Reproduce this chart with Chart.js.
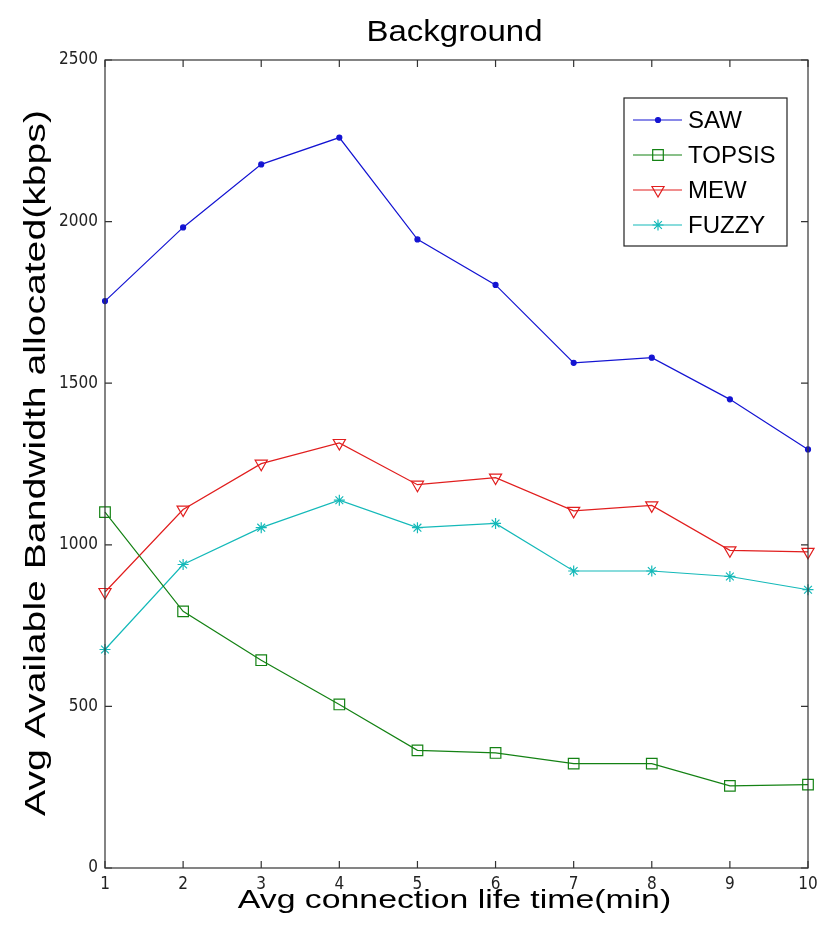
<!DOCTYPE html>
<html>
<head>
<meta charset="utf-8">
<script src="https://cdn.jsdelivr.net/npm/chart.js@4/dist/chart.umd.min.js"></script>
<style>
  html, body { margin: 0; padding: 0; background: #fff; }
  #wrap { width: 820px; height: 941px; }
</style>
</head>
<body>
<div id="wrap"><canvas id="myChart" width="820" height="941"></canvas></div>
<script>
// data
const lifeTimes = ['1', '2', '3', '4', '5', '6', '7', '8', '9', '10'];
const sawData = [1754, 1982, 2177, 2260, 1945, 1804, 1563, 1579, 1450, 1295];
const topsisData = [1101, 794, 643, 506, 364, 356, 323, 323, 254, 258];
const mewData = [854, 1109, 1251, 1315, 1186, 1208, 1105, 1122, 983, 978];
const fuzzyData = [676, 939, 1053, 1138, 1053, 1066, 919, 919, 902, 861];
const yTicks = [0, 500, 1000, 1500, 2000, 2500];

const chartTitle = 'Background';
const xTitle = 'Avg connection life time(min)';
const yTitle = 'Avg Available Bandwidth allocated(kbps)';

const tickFont = { family: "'Liberation Sans Narrow', 'DejaVu Sans Condensed', Arial, sans-serif", size: 17 };
const sans = "'Liberation Sans', Arial, sans-serif";

// white background
const whiteBg = {
    id: 'whiteBg',
    beforeDraw(chart) {
        const c = chart.ctx;
        c.save();
        c.fillStyle = '#fff';
        c.fillRect(0, 0, chart.width, chart.height);
        c.restore();
    }
};

// text stretched sideways a bit, like the matlab export
function drawLabel(c, text, x, y, size, sx, rot) {
    c.save();
    c.translate(x, y);
    if (rot) c.rotate(rot);
    c.scale(sx, 1);
    c.font = size + 'px ' + sans;
    c.fillStyle = '#000';
    c.textAlign = 'center';
    c.textBaseline = 'alphabetic';
    c.fillText(text, 0, 0);
    c.restore();
}

// titles centred on the plot box
const titles = {
    id: 'titles',
    afterDraw(chart) {
        const c = chart.ctx;
        const a = chart.chartArea;
        const cx = (a.left + a.right) / 2;
        const cy = (a.top + a.bottom) / 2;
        drawLabel(c, chartTitle, cx - 2, 41, 30, 1.1, 0);
        drawLabel(c, xTitle, cx - 2, 908, 26, 1.3, 0);
        drawLabel(c, yTitle, 45, cy - 1, 29, 1.35, -Math.PI / 2);
    }
};

// matlab style box with inward ticks
const boxTicks = {
    id: 'boxTicks',
    afterDatasetsDraw(chart) {
        const c = chart.ctx;
        const a = chart.chartArea;
        const xs = chart.scales.x, ys = chart.scales.y;
        const len = 7;
        c.save();
        c.strokeStyle = '#333';
        c.lineWidth = 1.2;
        c.strokeRect(a.left, a.top, a.right - a.left, a.bottom - a.top);
        c.beginPath();
        lifeTimes.forEach((l, i) => {
            const px = xs.getPixelForValue(i);
            c.moveTo(px, a.bottom); c.lineTo(px, a.bottom - len);
            c.moveTo(px, a.top); c.lineTo(px, a.top + len);
        });
        yTicks.forEach(v => {
            const py = ys.getPixelForValue(v);
            c.moveTo(a.left, py); c.lineTo(a.left + len, py);
            c.moveTo(a.right, py); c.lineTo(a.right - len, py);
        });
        c.stroke();
        c.restore();
    }
};

// legend box inside the plot, top right
const boxLegend = {
    id: 'boxLegend',
    afterDraw(chart) {
        const c = chart.ctx;
        const left = 624, top = 98, w = 163, h = 148;
        c.save();
        c.fillStyle = '#fff';
        c.fillRect(left, top, w, h);
        c.strokeStyle = '#222';
        c.lineWidth = 1.2;
        c.strokeRect(left, top, w, h);
        c.font = '24px ' + sans;
        c.textBaseline = 'middle';
        chart.data.datasets.forEach((ds, i) => {
            const y = 120 + i * 35;
            c.strokeStyle = ds.borderColor;
            c.lineWidth = 1.2;
            c.beginPath();
            c.moveTo(633, y); c.lineTo(682, y);
            c.stroke();
            c.fillStyle = ds.pointBackgroundColor;
            Chart.helpers.drawPoint(c, {
                pointStyle: ds.pointStyle,
                radius: ds.pointRadius,
                rotation: ds.pointRotation || 0,
                borderWidth: 1.2
            }, 658, y);
            c.fillStyle = '#000';
            c.fillText(ds.label, 688, y + 1);
        });
        c.restore();
    }
};

const ctx = document.getElementById('myChart').getContext('2d');
const myChart = new Chart(ctx, {
    type: 'line',
    data: {
        labels: lifeTimes,
        datasets: [{
            label: 'SAW',
            data: sawData,
            borderColor: 'rgb(20, 20, 210)',
            pointBackgroundColor: 'rgb(20, 20, 210)',
            pointBorderColor: 'rgb(20, 20, 210)',
            pointStyle: 'circle',
            pointRadius: 2.5,
            borderWidth: 1.2
        }, {
            label: 'TOPSIS',
            data: topsisData,
            borderColor: 'rgb(20, 130, 20)',
            pointBackgroundColor: 'rgba(0,0,0,0)',
            pointBorderColor: 'rgb(20, 130, 20)',
            pointStyle: 'rect',
            pointRadius: 7.5,
            borderWidth: 1.2
        }, {
            label: 'MEW',
            data: mewData,
            borderColor: 'rgb(225, 30, 30)',
            pointBackgroundColor: 'rgba(0,0,0,0)',
            pointBorderColor: 'rgb(225, 30, 30)',
            pointStyle: 'triangle',
            pointRotation: 180,
            pointRadius: 7,
            borderWidth: 1.2
        }, {
            label: 'FUZZY',
            data: fuzzyData,
            borderColor: 'rgb(20, 185, 185)',
            pointBackgroundColor: 'rgb(20, 185, 185)',
            pointBorderColor: 'rgb(20, 185, 185)',
            pointStyle: 'star',
            pointRadius: 5.5,
            borderWidth: 1.2
        }]
    },
    options: {
        responsive: false,
        animation: false,
        layout: { padding: { left: 0, right: 12, top: 60, bottom: 0 } },
        elements: { line: { tension: 0 }, point: { pointBorderWidth: 1.2, hoverRadius: 5 } },
        plugins: {
            legend: { display: false },
            tooltip: { enabled: false },
            title: { display: false }
        },
        scales: {
            x: {
                offset: false,
                grid: { display: false, drawTicks: false },
                border: { display: false },
                ticks: { color: '#222', font: tickFont, padding: 6, maxRotation: 0, autoSkip: false },
                afterFit(scale) {
                    scale.height = 73;
                    scale.paddingLeft = 0;
                    scale.paddingRight = 0;
                }
            },
            y: {
                min: 0,
                max: 2500,
                grid: { display: false, drawTicks: false },
                border: { display: false },
                ticks: {
                    stepSize: 500, color: '#222', font: tickFont, padding: 7,
                    callback: v => String(v)
                },
                afterFit(scale) {
                    scale.width = 105;
                    scale.paddingTop = 0;
                    scale.paddingBottom = 0;
                }
            }
        }
    },
    plugins: [whiteBg, boxTicks, boxLegend, titles]
});
</script>
</body>
</html>
